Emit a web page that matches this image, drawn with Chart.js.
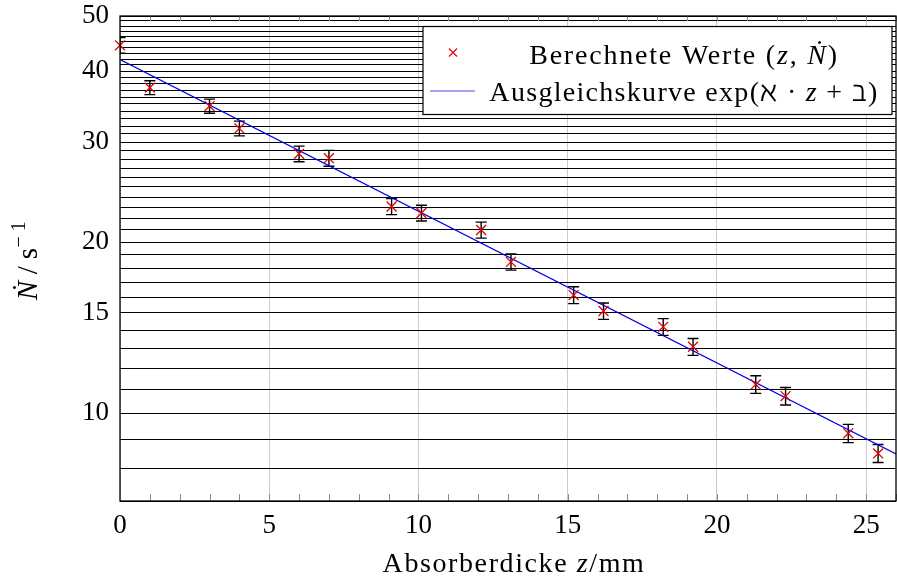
<!DOCTYPE html>
<html>
<head>
<meta charset="utf-8">
<script src="https://cdn.jsdelivr.net/npm/chart.js@4.4.1/dist/chart.umd.min.js"></script>
<style>
  html, body { margin: 0; padding: 0; background: #fff; }
  canvas { display: block; }
</style>
</head>
<body>
<canvas id="absorptionChart" width="897" height="580"></canvas>
<script>
// Messwerte: Absorberdicke z in mm, Zaehlrate N-dot in 1/s
const zValues = [0, 1, 3, 4, 6, 7, 9.1, 10.1, 12.1, 13.1, 15.2, 16.2, 18.2, 19.2, 21.3, 22.3, 24.4, 25.4];
const rateValues = [44.4, 37.4, 34.7, 31.7, 28.6, 28.1, 23.1, 22.5, 21.0, 18.45, 16.13, 15.12, 14.18, 13.08, 11.23, 10.71, 9.21, 8.49];
const rateErrors = [1.4, 1.05, 1.0, 0.95, 0.9, 0.9, 0.75, 0.72, 0.68, 0.6, 0.55, 0.5, 0.48, 0.45, 0.4, 0.38, 0.34, 0.31];

// Ausgleichsgerade (im log-Plot eine Gerade, zwei Endpunkte reichen)
const fitZ = [0, 26];
const fitRate = [41.9, 8.47];

// Achsen
const xTickLabels = [0, 5, 10, 15, 20, 25];
const yTickLabels = [10, 15, 20, 30, 40, 50];
const yMin = 7, yMax = 50, xMin = 0, xMax = 26;

const SERIF = '"Liberation Serif", "DejaVu Serif", serif';
const font = (size, style) => (style ? style + ' ' : '') + size + 'px ' + SERIF;
const SYM = '28px "DejaVu Serif", serif';

// Text mit gemischten Schriften (kursiv/aufrecht, Hochstellung)
function drawRich(ctx, parts, x, y, rotate, spacing) {
    ctx.save();
    ctx.letterSpacing = (spacing || 0) + 'px';
    let width = 0;
    parts.forEach(p => { ctx.font = p[1]; width += ctx.measureText(p[0]).width; });
    ctx.translate(x, y);
    if (rotate) ctx.rotate(-Math.PI / 2);
    ctx.fillStyle = '#000';
    ctx.textBaseline = 'alphabetic';
    ctx.textAlign = 'left';
    let cx = -width / 2;
    parts.forEach(p => {
        ctx.font = p[1];
        ctx.fillText(p[0], cx, p[2] || 0);
        cx += ctx.measureText(p[0]).width;
    });
    ctx.restore();
}

function noScalePadding(scale) {
    scale.paddingTop = 0;
    scale.paddingBottom = 0;
    scale.paddingLeft = 0;
    scale.paddingRight = 0;
}

const errorBarPlugin = {
    id: 'errorBars',
    beforeDatasetsDraw(chart) {
        const { ctx, chartArea, scales } = chart;
        ctx.save();
        ctx.beginPath();
        ctx.rect(chartArea.left, chartArea.top, chartArea.right - chartArea.left, chartArea.bottom - chartArea.top);
        ctx.clip();
        ctx.strokeStyle = '#000';
        ctx.lineWidth = 1.4;
        zValues.forEach((z, i) => {
            const x = scales.x.getPixelForValue(z);
            const yTop = scales.y.getPixelForValue(rateValues[i] + rateErrors[i]);
            const yBot = scales.y.getPixelForValue(rateValues[i] - rateErrors[i]);
            ctx.beginPath();
            ctx.moveTo(x, yTop); ctx.lineTo(x, yBot);
            ctx.moveTo(x - 5.5, yTop); ctx.lineTo(x + 5.5, yTop);
            ctx.moveTo(x - 5.5, yBot); ctx.lineTo(x + 5.5, yBot);
            ctx.stroke();
        });
        ctx.restore();
    }
};

const framePlugin = {
    id: 'frame',
    afterDatasetsDraw(chart) {
        const { ctx, chartArea, scales } = chart;
        const { left, right, top, bottom } = chartArea;
        ctx.save();
        // kleine Striche an jeder ganzen Zahl, unten und oben
        ctx.strokeStyle = '#8c8c8c';
        ctx.lineWidth = 1;
        for (let z = xMin + 1; z <= xMax; z++) {
            const x = Math.round(scales.x.getPixelForValue(z)) + 0.5;
            ctx.beginPath();
            ctx.moveTo(x, bottom); ctx.lineTo(x, bottom - 7);
            ctx.moveTo(x, top); ctx.lineTo(x, top + 5);
            ctx.stroke();
        }
        // Rahmen
        ctx.strokeStyle = '#000';
        ctx.lineWidth = 1.3;
        ctx.strokeRect(left, top, right - left, bottom - top);
        ctx.restore();

        // Achsenbeschriftungen
        drawRich(ctx, [
            ['Absorberdicke ', font(28)],
            ['z', font(28, 'italic')],
            ['/mm', font(28)]
        ], (left + right) / 2 + 6, 572, false, 1.6);
        drawRich(ctx, [
            ['\u1E44', font(29, 'italic')],
            ['\u2009/\u2009s', font(29)],
            ['\u2212\u20091', font(20), -12]
        ], 37, (top + bottom) / 2 + 2, true, 0.5);
    },
    afterDraw(chart) {
        const { ctx, chartArea } = chart;
        const boxR = chartArea.right - 4;
        const boxL = boxR - 469;
        const boxT = chartArea.top + 10.5;
        const boxB = boxT + 88;
        ctx.save();
        ctx.fillStyle = '#fff';
        ctx.fillRect(boxL, boxT, boxR - boxL, boxB - boxT);
        ctx.strokeStyle = '#000';
        ctx.lineWidth = 1.2;
        ctx.strokeRect(boxL, boxT, boxR - boxL, boxB - boxT);
        // Marker
        const mx = boxL + 30, my = boxT + 26;
        ctx.strokeStyle = 'rgb(225,0,0)';
        ctx.lineWidth = 1.1;
        ctx.beginPath();
        ctx.moveTo(mx - 4, my - 4); ctx.lineTo(mx + 4, my + 4);
        ctx.moveTo(mx - 4, my + 4); ctx.lineTo(mx + 4, my - 4);
        ctx.stroke();
        // Linie
        ctx.strokeStyle = 'rgb(70,70,225)';
        ctx.lineWidth = 1;
        ctx.beginPath();
        ctx.moveTo(boxL + 7, boxT + 64.5); ctx.lineTo(boxL + 52, boxT + 64.5);
        ctx.stroke();
        ctx.restore();

        const cx = boxL + 261;
        drawRich(ctx, [
            ['Berechnete Werte (', font(28)],
            ['z', font(28, 'italic')],
            [', ', font(28)],
            ['\u1E44', font(28, 'italic')],
            [')', font(28)]
        ], cx, boxT + 37, false, 1.8);
        drawRich(ctx, [
            ['Ausgleichskurve exp(', font(28)],
            ['\u2135', SYM],
            [' \u00B7 ', font(28)],
            ['z', font(28, 'italic')],
            [' + ', font(28)],
            ['\u2136', SYM],
            [')', font(28)]
        ], cx, boxT + 74.5, false, 1.3);
    }
};

const ctx = document.getElementById('absorptionChart').getContext('2d');
new Chart(ctx, {
    type: 'scatter',
    data: {
        datasets: [{
            label: 'Berechnete Werte',
            data: zValues.map((z, i) => ({ x: z, y: rateValues[i] })),
            pointStyle: 'crossRot',
            pointRadius: 7,
            pointHoverRadius: 7,
            pointBorderWidth: 1.3,
            borderColor: 'rgb(225,0,0)',
            backgroundColor: 'rgb(225,0,0)',
            clip: false
        }, {
            label: 'Ausgleichskurve',
            type: 'line',
            data: fitZ.map((z, i) => ({ x: z, y: fitRate[i] })),
            borderColor: 'rgb(0,0,230)',
            borderWidth: 1.1,
            pointRadius: 0,
            fill: false,
            tension: 0
        }]
    },
    options: {
        responsive: false,
        animation: false,
        devicePixelRatio: 1,
        layout: { autoPadding: false, padding: { left: 0, right: 1, top: 16, bottom: 0 } },
        plugins: {
            legend: { display: false },
            tooltip: { enabled: false }
        },
        scales: {
            x: {
                type: 'linear',
                min: xMin,
                max: xMax,
                afterFit(scale) { scale.height = 79; noScalePadding(scale); },
                afterBuildTicks(scale) {
                    scale.ticks = xTickLabels.map(v => ({ value: v }));
                },
                grid: { color: '#cccccc', lineWidth: 1, drawTicks: false },
                border: { display: false },
                ticks: {
                    padding: 9,
                    color: '#000',
                    font: { family: SERIF, size: 27 },
                    maxRotation: 0
                }
            },
            y: {
                type: 'logarithmic',
                min: yMin,
                max: yMax,
                afterFit(scale) { scale.width = 120; noScalePadding(scale); },
                afterBuildTicks(scale) {
                    const ticks = [];
                    for (let v = yMin; v <= yMax; v++) ticks.push({ value: v });
                    scale.ticks = ticks;
                },
                grid: { color: '#000', lineWidth: 1, drawTicks: false },
                border: { display: false },
                ticks: {
                    autoSkip: false,
                    padding: 11,
                    color: '#000',
                    font: { family: SERIF, size: 27 },
                    callback: v => yTickLabels.includes(v) ? String(v) : ''
                }
            }
        }
    },
    plugins: [errorBarPlugin, framePlugin]
});
</script>
</body>
</html>
